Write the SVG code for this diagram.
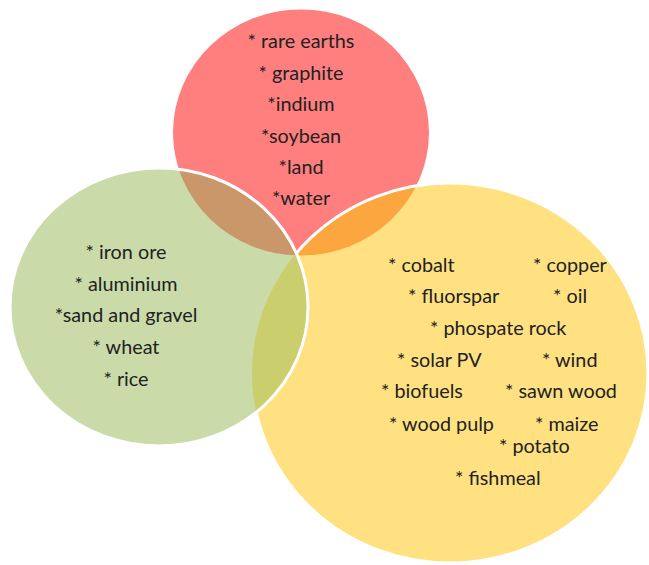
<svg xmlns="http://www.w3.org/2000/svg" width="649" height="565" viewBox="0 0 649 565">
<style>
text{font-family:Lato,"Liberation Sans",sans-serif;font-size:19.8px;fill:#222222}
.c{text-anchor:middle}
.ws{fill:none;stroke:#ffffff;stroke-width:3}
</style>
<defs>
<clipPath id="clipY"><ellipse cx="450" cy="373" rx="198" ry="190"/></clipPath>
<clipPath id="clipG"><ellipse cx="159" cy="307" rx="149" ry="139"/></clipPath>
</defs>
<rect width="649" height="565" fill="#ffffff"/>
<g id="circle-red">
<ellipse cx="301" cy="132.5" rx="128" ry="123" fill="#FF7F7F"/>
</g>
<g id="circle-yellow">
<ellipse cx="450" cy="373" rx="198" ry="190" fill="#FFE182"/>
<ellipse cx="301" cy="132.5" rx="128" ry="123" fill="#FCA640" clip-path="url(#clipY)"/>
<ellipse class="ws" cx="450" cy="373" rx="198" ry="190"/>
</g>
<g id="circle-green">
<ellipse cx="159" cy="307" rx="149" ry="139" fill="#CADBA9"/>
<ellipse cx="301" cy="132.5" rx="128" ry="123" fill="#C9976A" clip-path="url(#clipG)"/>
<ellipse cx="450" cy="373" rx="198" ry="190" fill="#CACE6D" clip-path="url(#clipG)"/>
<ellipse class="ws" cx="159" cy="307" rx="149" ry="139"/>
</g>
<g id="labels-red">
<text class="c" x="301" y="48">* rare earths</text>
<text class="c" x="301" y="79.5">* graphite</text>
<text class="c" x="301" y="111">*indium</text>
<text class="c" x="301" y="142.5">*soybean</text>
<text class="c" x="301" y="174">*land</text>
<text class="c" x="301" y="205">*water</text>
</g>
<g id="labels-green">
<text class="c" x="126" y="259">* iron ore</text>
<text class="c" x="126" y="290.5">* aluminium</text>
<text class="c" x="126" y="322">*sand and gravel</text>
<text class="c" x="126" y="354">* wheat</text>
<text class="c" x="126" y="385.5">* rice</text>
</g>
<g id="labels-yellow">
<text x="388" y="271.5">* cobalt</text>
<text x="533" y="271.5">* copper</text>
<text x="408" y="303">* fluorspar</text>
<text x="553" y="303">* oil</text>
<text x="430" y="335">* phospate rock</text>
<text x="397" y="366.5">* solar PV</text>
<text x="542" y="366.5">* wind</text>
<text x="381" y="398">* biofuels</text>
<text x="505" y="398">* sawn wood</text>
<text x="389" y="430.5">* wood pulp</text>
<text x="535" y="430.5">* maize</text>
<text x="499" y="453">* potato</text>
<text x="455" y="485">* fishmeal</text>
</g>
</svg>
